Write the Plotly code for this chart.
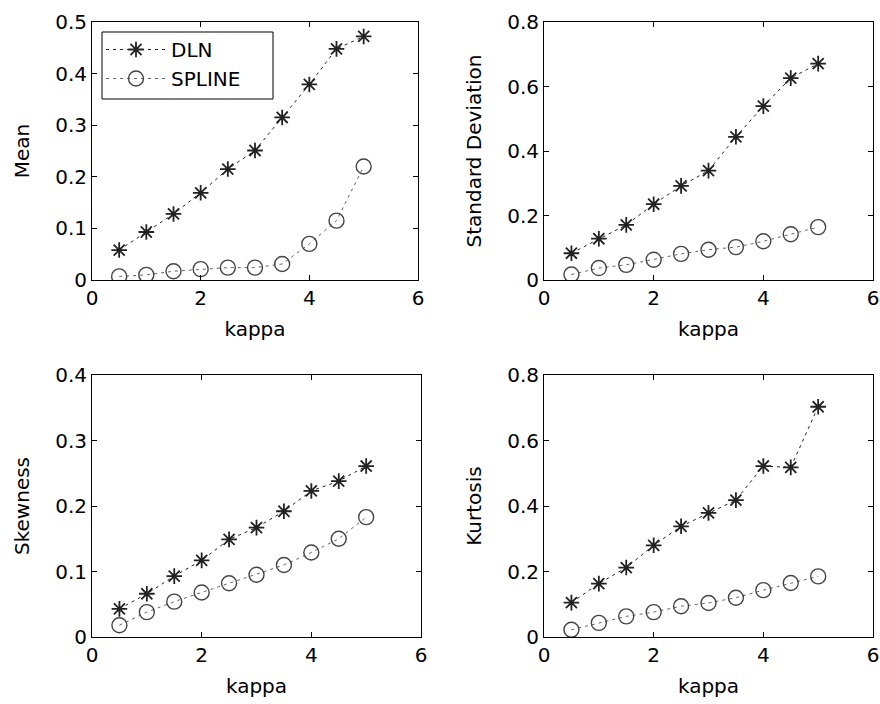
import plotly.graph_objects as go

kappa = [0.5, 1.0, 1.5, 2.0, 2.5, 3.0, 3.5, 4.0, 4.5, 5.0]

mean_dln = [0.058, 0.093, 0.128, 0.169, 0.215, 0.251, 0.315, 0.379, 0.448, 0.472]
mean_spline = [0.007, 0.010, 0.017, 0.021, 0.024, 0.024, 0.031, 0.070, 0.115, 0.220]

std_dln = [0.083, 0.128, 0.171, 0.235, 0.292, 0.339, 0.444, 0.539, 0.626, 0.671]
std_spline = [0.017, 0.037, 0.047, 0.063, 0.081, 0.094, 0.102, 0.120, 0.142, 0.164]

skew_dln = [0.043, 0.066, 0.093, 0.117, 0.149, 0.167, 0.192, 0.223, 0.238, 0.261]
skew_spline = [0.018, 0.038, 0.054, 0.068, 0.082, 0.095, 0.110, 0.129, 0.150, 0.183]

kurt_dln = [0.105, 0.163, 0.212, 0.280, 0.338, 0.379, 0.418, 0.522, 0.518, 0.703]
kurt_spline = [0.022, 0.043, 0.063, 0.076, 0.094, 0.104, 0.120, 0.143, 0.165, 0.185]

panels = [
    ("Mean", mean_dln, mean_spline, 0.5, 0.1),
    ("Standard Deviation", std_dln, std_spline, 0.8, 0.2),
    ("Skewness", skew_dln, skew_spline, 0.4, 0.1),
    ("Kurtosis", kurt_dln, kurt_spline, 0.8, 0.2),
]

W, H = 880, 704
# pixel boxes (left, right, top, bottom)
boxes = [(92, 418, 22, 280), (544, 873, 22, 280), (92, 421, 375, 637), (544, 873, 375, 637)]

FONT = dict(family="DejaVu Sans, Arial, sans-serif", size=20, color="black")

fig = go.Figure()
for i, (name, dln, spl, ymax, dy) in enumerate(panels):
    n = "" if i == 0 else str(i + 1)
    xa, ya = "x" + n, "y" + n
    fig.add_trace(go.Scatter(
        x=kappa, y=dln, mode="lines+markers", name="DLN", showlegend=(i == 0),
        xaxis=xa, yaxis=ya,
        line=dict(color="#222222", width=1, dash="3px,4px"),
        marker=dict(symbol="asterisk-open", size=13, line=dict(color="#111111", width=1.8)),
    ))
    fig.add_trace(go.Scatter(
        x=kappa, y=spl, mode="lines+markers", name="SPLINE", showlegend=(i == 0),
        xaxis=xa, yaxis=ya,
        line=dict(color="#666666", width=1, dash="3px,4px"),
        marker=dict(symbol="circle-open", size=15, color="#444444", line=dict(color="#444444", width=1.4)),
    ))
    l, r, t, b = boxes[i]
    axcommon = dict(showline=True, linecolor="black", linewidth=1, mirror="ticks",
                    ticks="inside", ticklen=5, tickcolor="black", showgrid=False,
                    zeroline=False, tickfont=FONT, automargin=False)
    fig.update_layout(**{
        "xaxis" + n: dict(domain=[l / W, r / W], anchor=ya, range=[0, 6], dtick=2, tick0=0,
                          title=dict(text="kappa", font=FONT, standoff=12), **axcommon),
        "yaxis" + n: dict(domain=[1 - b / H, 1 - t / H], anchor=xa, range=[0, ymax], dtick=dy, tick0=0,
                          title=dict(text=name, font=FONT, standoff=20), **axcommon),
    })

# legend frame
fig.add_shape(type="rect", xref="paper", yref="paper",
              x0=102 / W, x1=273 / W, y0=1 - 99 / H, y1=1 - 32 / H,
              line=dict(color="black", width=1), fillcolor="white", layer="below")

fig.update_layout(
    width=W, height=H,
    margin=dict(l=0, r=0, t=0, b=0, autoexpand=False),
    paper_bgcolor="white", plot_bgcolor="white",
    font=FONT,
    legend=dict(x=101 / W, y=1 - 30 / H, xanchor="left", yanchor="top",
                bgcolor="rgba(0,0,0,0)", borderwidth=0,
                font=FONT, tracegroupgap=0, itemwidth=60),
)

fig.write_html("out.html")
